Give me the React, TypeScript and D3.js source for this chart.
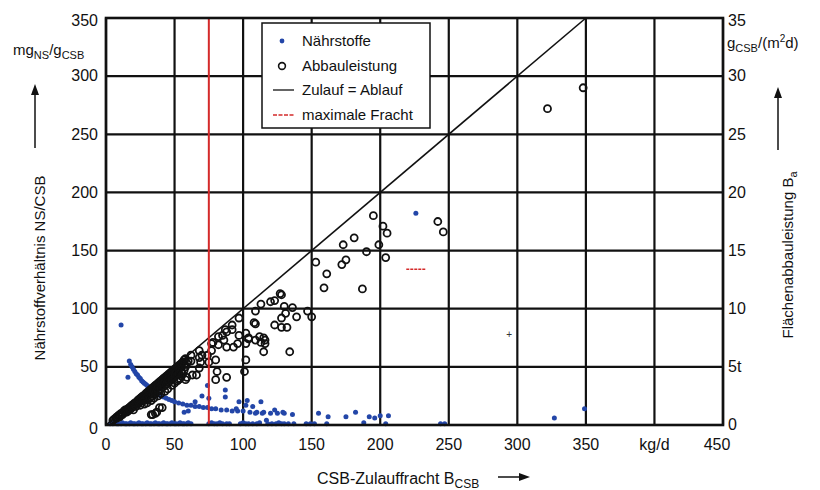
import React from "react";
import * as d3 from "d3";

const xTicks = [0, 50, 100, 150, 200, 250, 300, 350, 400, 450];
const xTickLabels = ["0", "50", "100", "150", "200", "250", "300", "350", "kg/d", "450"];
const yTicks = [0, 50, 100, 150, 200, 250, 300, 350];
const yRightLabels = ["0", "5t", "10", "15", "20", "25", "30", "35"];
const maxFracht = 75;

// Nährstoffe (blue dots): [CSB-Zulauffracht, NS/CSB]
const naehrBase: [number, number][] = [
  [3,1],[5,1],[6,2],[8,1],[9,1],[11,1],[12,2],[14,1],[15,1],[17,1],[18,2],[20,1],[21,1],[23,1],[24,2],[26,1],[27,1],[29,1],[30,2],[32,1],[33,1],[35,1],[36,2],[38,1],[39,1],[41,1],[42,2],[44,1],[45,1],[47,1],[48,2],[50,1],[51,1],[53,1],[54,2],[56,1],[57,1],[59,1],[60,2],[62,1],
  [75,1],[77,2],[79,1],[81,1],[83,2],[85,1],[88,1],[90,1],[98,1],[100,2],[102,1],[104,1],[107,1],[110,1],[112,2],[118,1],[121,1],[124,1],[126,2],[128,1],[130,1],[133,1],[137,1],[146,1],[149,1],[152,1],[161,1],[188,2],[204,1],[244,1],[247,1]
];
const naehrCurve: [number, number][] = [
  [17,55],[18,52],[19,50],[20,48],[21,46],[22,44],[23,43],[24,41],[25,40],[26,38],[27,37],[28,36],[29,35],[30,34],[31,33],[32,32],[34,30],[36,28],[38,27],[40,25],[42,24],[44,23],[46,22],[48,21],[50,20],[53,19],[56,18],[59,17],[62,17],[65,16],[68,16],[71,15],[74,15],[77,14],[80,14],[84,13],[88,13],[92,12],[96,12],[100,12],[105,11],[110,11],[115,11],[120,10],[125,10],[130,10],[136,9]
];
const naehrScatter: [number, number][] = [
  [11,86],[16,41],[74,34],[75,23],[87,30],[87,24],[97,20],[103,21],[102,17],[113,20],[107,16],[109,10],[114,10],[123,13],[129,11],[117,4],[155,10],[162,7],[175,7],[182,11],[192,7],[196,6],[200,8],[206,8],[226,182],[327,6],[349,14],[57,11],[60,12],[95,14],[70,25],[65,20]
];

// Abbauleistung (open circles): [CSB-Zulauffracht, Abbauleistung x10]
const abbauCluster: [number, number][] = [
  [5,4],[6,5],[7,6],[8,6],[8,7],[9,8],[10,9],[10,7],[11,10],[12,10],[12,9],[13,12],[14,11],[14,13],[15,13],[15,11],[16,14],[16,12],[17,15],[17,13],[18,16],[18,14],[19,17],[19,15],[20,18],[20,16],[21,19],[21,17],[22,19],[22,16],[23,21],[23,18],[24,22],[24,19],[25,23],[25,20],[26,24],[26,21],[27,25],[27,22],[28,25],[28,21],[29,27],[29,24],[30,28],[30,25],[30,22],[31,29],[31,26],[32,30],[32,27],[32,23],[33,31],[33,28],[34,32],[34,29],[34,25],[35,33],[35,30],[36,34],[36,31],[36,27],[37,35],[37,32],[38,36],[38,33],[38,29],[39,37],[39,34],[40,38],[40,35],[40,31],[41,39],[41,36],[42,40],[42,37],[42,33],[43,41],[43,38],[44,42],[44,39],[44,35],[45,43],[45,40],[46,44],[46,41],[46,37],[47,45],[47,42],[48,46],[48,43],[48,39],[49,47],[49,44],[50,48],[50,45],[50,41],[51,49],[51,46],[52,50],[52,47],[52,43],[53,51],[53,48],[54,52],[54,49],[55,53],[55,50],[56,54],[57,52],[55,46],[53,44],
  [20,13],[25,17],[28,18],[30,19],[33,21],[35,23],[38,25],[40,27],[43,29],[45,31],[48,34],[50,36],[52,38],[55,42],[57,47],[58,50],[59,53],[60,55],[57,56],[58,57],[54,40],[56,44]
];
const abbauScatter: [number, number][] = [
  [348,290],[322,272],[195,180],[202,171],[205,165],[181,161],[173,155],[199,155],[190,149],[204,144],[175,142],[172,138],[153,140],[161,130],[159,118],[187,117],[242,175],[246,166],
  [113,104],[109,98],[120,106],[123,107],[127,113],[128,112],[130,102],[136,101],[131,96],[139,93],[147,98],[150,93],[128,92],[123,86],[128,84],[132,84],[109,87],[112,76],[104,74],[113,71],[116,73],[116,70],[115,63],[134,63],[102,56],[102,70],[101,46],
  [108,88],[102,79],[97,77],[92,82],[88,80],[85,77],[86,73],[82,69],[88,67],[93,67],[96,70],[104,75],[109,73],[115,75],[77,70],[77,64],[80,56],[75,54],[70,60],[68,64],[74,60],[69,54],[81,46],[88,41],[80,39],[66,43],[63,43],[59,41],[68,49],[62,55],[58,39],[53,39],[41,15],[37,11],[34,9],[39,15],
  [97,92],[92,86],[87,82],[82,76],[78,71],[62,60],[68,58],[33,9],[36,10]
];

// small red mark and plus in the scan
const redMark = [{ x0: 219, x1: 233, y: 134 }];
const plusMark = [{ x: 294, y: 77 }];

const W = 820, H = 490;
const x = d3.scaleLinear().domain([0, 450]).range([106, 723]);
const y = d3.scaleLinear().domain([0, 350]).range([425, 18]);

const FONT = "'Liberation Sans', Arial, Helvetica, sans-serif";
const BLUE = "#2346a8";
const RED = "#d42a2a";

export default function App() {
  const diag = d3.line<[number, number]>().x(d => x(d[0])).y(d => y(d[1]))([[0, 0], [350, 350]]) || "";
  return (
    <svg width={W} height={H} style={{ position: "absolute", left: 0, top: 0, background: "#fff" }} fontFamily={FONT}>
      <rect x={0} y={0} width={W} height={H} fill="#fff" />
      {/* grid */}
      {xTicks.map(t => (
        <line key={"gx" + t} x1={x(t)} x2={x(t)} y1={y(0)} y2={y(350)} stroke="#111" strokeWidth={2.2} />
      ))}
      {yTicks.map(t => (
        <line key={"gy" + t} x1={x(0)} x2={x(450)} y1={y(t)} y2={y(t)} stroke="#111" strokeWidth={2.2} />
      ))}
      {/* data */}
      {naehrBase.concat(naehrCurve, naehrScatter).map((d, i) => (
        <circle key={"n" + i} cx={x(d[0])} cy={y(d[1])} r={2.5} fill={BLUE} />
      ))}
      {abbauCluster.concat(abbauScatter).map((d, i) => (
        <circle key={"a" + i} cx={x(d[0])} cy={y(d[1])} r={3.5} fill="none" stroke="#111" strokeWidth={1.8} />
      ))}
      <path d={diag} stroke="#111" strokeWidth={1.6} fill="none" />
      <line x1={x(maxFracht)} x2={x(maxFracht)} y1={y(0)} y2={y(350)} stroke={RED} strokeWidth={2} />
      {redMark.map((m, i) => (
        <line key={"rm" + i} x1={x(m.x0)} x2={x(m.x1)} y1={y(m.y)} y2={y(m.y)} stroke={RED} strokeWidth={1.5} strokeDasharray="3,1" />
      ))}
      {plusMark.map((m, i) => (
        <text key={"pm" + i} x={x(m.x)} y={y(m.y)} fontSize={10} textAnchor="middle" dominantBaseline="middle" fill="#333">+</text>
      ))}
      {/* frame */}
      <rect x={x(0)} y={y(350)} width={x(450) - x(0)} height={y(0) - y(350)} fill="none" stroke="#111" strokeWidth={2.6} />
      {/* left ticks */}
      {yTicks.map(t => (
        <text key={"yl" + t} x={98} y={y(t) + (t === 350 ? 4 : t === 0 ? 5 : 1)} fontSize={16} textAnchor="end" dominantBaseline="middle" fill="#111">{t}</text>
      ))}
      {/* right ticks */}
      {yTicks.map((t, i) => (
        <text key={"yr" + t} x={728} y={y(t) + (t === 350 ? 4 : 1)} fontSize={16} textAnchor="start" dominantBaseline="middle" fill="#111">{yRightLabels[i]}</text>
      ))}
      {/* bottom ticks */}
      {xTicks.map((t, i) => (
        <text key={"xl" + t} x={x(t) + (t === 450 ? -6 : 0)} y={446} fontSize={16} textAnchor="middle" dominantBaseline="middle" fill="#111">{xTickLabels[i]}</text>
      ))}
      {/* unit labels */}
      <text x={13} y={55} fontSize={15} fill="#111">
        mg<tspan fontSize={11} dy={4}>NS</tspan><tspan dy={-4}>/g</tspan><tspan fontSize={11} dy={4}>CSB</tspan>
      </text>
      <text x={727} y={48} fontSize={15} fill="#111">
        g<tspan fontSize={11} dy={4}>CSB</tspan><tspan dy={-4}>/(m</tspan><tspan fontSize={10} dy={-6}>2</tspan><tspan dy={6}>d)</tspan>
      </text>
      {/* left axis title */}
      <text transform="translate(45,268) rotate(-90)" fontSize={15} textAnchor="middle" fill="#111">Nährstoffverhältnis NS/CSB</text>
      <line x1={35} x2={35} y1={148} y2={92} stroke="#111" strokeWidth={1.5} />
      <path d="M35,84 L31,95 L39,95 Z" fill="#111" />
      {/* right axis title */}
      <text transform="translate(793,255) rotate(-90)" fontSize={15} textAnchor="middle" fill="#111">
        Flächenabbauleistung B<tspan fontSize={11} dy={4}>a</tspan>
      </text>
      <line x1={778} x2={778} y1={150} y2={96} stroke="#111" strokeWidth={1.5} />
      <path d="M778,87 L774,98 L782,98 Z" fill="#111" />
      {/* x axis title */}
      <text x={317} y={484} fontSize={16} fill="#111">
        CSB-Zulauffracht B<tspan fontSize={12} dy={4}>CSB</tspan>
      </text>
      <line x1={498} x2={522} y1={477} y2={477} stroke="#111" strokeWidth={1.5} />
      <path d="M530,477 L519,473 L519,481 Z" fill="#111" />
      {/* legend */}
      <g>
        <rect x={262} y={23} width={168} height={105} fill="#fff" stroke="#111" strokeWidth={1.5} />
        <circle cx={282} cy={41} r={2.4} fill={BLUE} />
        <text x={302} y={42} fontSize={15} dominantBaseline="middle" fill="#111">Nährstoffe</text>
        <circle cx={282} cy={66} r={3.4} fill="none" stroke="#111" strokeWidth={1.6} />
        <text x={302} y={67} fontSize={15} dominantBaseline="middle" fill="#111">Abbauleistung</text>
        <line x1={273} x2={294} y1={90} y2={90} stroke="#111" strokeWidth={1.3} />
        <text x={302} y={91} fontSize={15} dominantBaseline="middle" fill="#111">Zulauf = Ablauf</text>
        <line x1={273} x2={294} y1={115} y2={115} stroke={RED} strokeWidth={1.5} strokeDasharray="4,1.5" />
        <text x={302} y={116} fontSize={15} dominantBaseline="middle" fill="#111">maximale Fracht</text>
      </g>
    </svg>
  );
}
